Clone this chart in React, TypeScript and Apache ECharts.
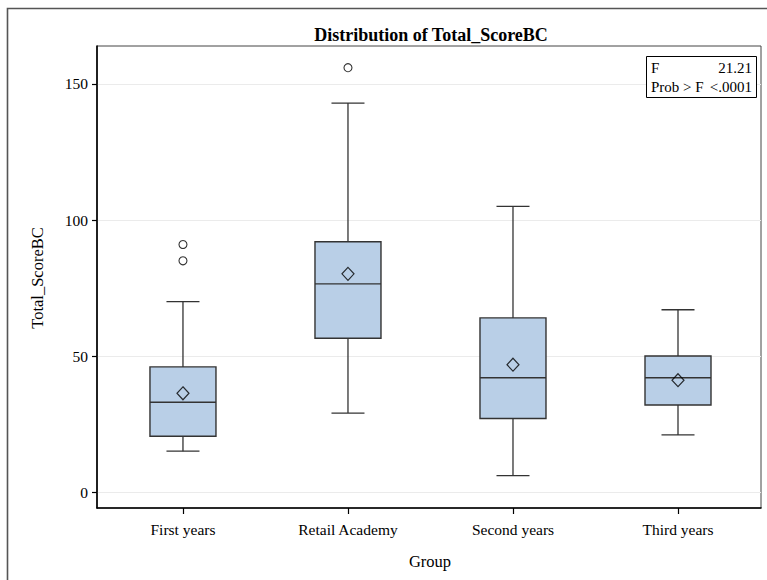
import React, { useEffect, useRef } from "react";
import * as echarts from "echarts";

const categories = ["First years", "Retail Academy", "Second years", "Third years"];
const whiskerLow = [15, 29, 6, 21];
const q1 = [20.5, 56.5, 27, 32];
const median = [33, 76.5, 42, 42];
const q3 = [46, 92, 64, 50];
const whiskerHigh = [70, 143, 105, 67];
const means = [36.3, 80.2, 46.8, 41.1];
const outliers: [number, number][] = [
  [0, 91],
  [0, 85],
  [1, 156],
];
const yTicks = [0, 50, 100, 150];
const statLabels = ["F", "Prob > F"];
const statValues = ["21.21", "<.0001"];

const SERIF = "'Liberation Serif', 'Times New Roman', serif";

export default function App() {
  const ref = useRef<HTMLDivElement>(null);
  useEffect(() => {
    if (!ref.current) return;
    const chart = echarts.init(ref.current, null, { renderer: "svg" });
    const boxData = categories.map((_, i) => [i, whiskerLow[i], q1[i], median[i], q3[i], whiskerHigh[i]]);
    const lineStyle = { stroke: "#333", lineWidth: 1.3 };
    chart.setOption({
      animation: false,
      backgroundColor: "#fff",
      grid: {
        left: 97,
        right: 767 - 761,
        top: 46,
        bottom: 580 - 508,
        show: true,
        borderColor: "#444",
        borderWidth: 1,
        backgroundColor: "transparent",
      },
      xAxis: {
        type: "value",
        min: -0.521,
        max: 3.503,
        axisLine: { show: true, onZero: false, lineStyle: { color: "#000", width: 1.6 } },
        axisTick: { show: true, length: 6, customValues: [0, 1, 2, 3], lineStyle: { color: "#000", width: 1.2 } },
        axisLabel: {
          customValues: [0, 1, 2, 3],
          formatter: (v: number) => categories[Math.round(v)] ?? "",
          margin: 13,
          color: "#000",
          fontFamily: SERIF,
          fontSize: 15.5,
        },
        splitLine: { show: false },
      },
      yAxis: {
        type: "value",
        min: -5.88,
        max: 163.97,
        splitNumber: 3,
        axisLine: { show: true, onZero: false, lineStyle: { color: "#000", width: 1.6 } },
        axisTick: { show: true, length: 5, customValues: yTicks, lineStyle: { color: "#000", width: 1.2 } },
        axisLabel: {
          customValues: yTicks,
          margin: 9,
          color: "#000",
          fontFamily: SERIF,
          fontSize: 15.5,
        },
        splitLine: { show: true, lineStyle: { color: "#ebebeb", width: 1 } },
      },
      graphic: [
        {
          type: "rect",
          shape: { x: 7.5, y: 8.5, width: 820, height: 620 },
          style: { fill: "none", stroke: "#555", lineWidth: 1.6 },
          silent: true,
        },
        {
          type: "text",
          x: 431,
          y: 35,
          style: {
            text: "Distribution of Total_ScoreBC",
            fontFamily: SERIF,
            fontWeight: "bold",
            fontSize: 18,
            fill: "#000",
            align: "center",
            verticalAlign: "middle",
          },
        },
        {
          type: "text",
          x: 37,
          y: 278,
          rotation: Math.PI / 2,
          style: {
            text: "Total_ScoreBC",
            fontFamily: SERIF,
            fontSize: 16.5,
            fill: "#000",
            align: "center",
            verticalAlign: "middle",
          },
        },
        {
          type: "text",
          x: 430,
          y: 561,
          style: {
            text: "Group",
            fontFamily: SERIF,
            fontSize: 16.5,
            fill: "#000",
            align: "center",
            verticalAlign: "middle",
          },
        },
        {
          type: "rect",
          shape: { x: 646.5, y: 56.5, width: 110, height: 41 },
          style: { fill: "#fff", stroke: "#000", lineWidth: 1 },
          z: 10,
        },
        ...statLabels.map((t, i) => ({
          type: "text",
          x: 651,
          y: 68 + i * 19,
          z: 11,
          style: { text: t, fontFamily: SERIF, fontSize: 15, fill: "#000", align: "left", verticalAlign: "middle" },
        })),
        ...statValues.map((t, i) => ({
          type: "text",
          x: 752,
          y: 68 + i * 19,
          z: 11,
          style: { text: t, fontFamily: SERIF, fontSize: 15, fill: "#000", align: "right", verticalAlign: "middle" },
        })),
      ],
      series: [
        {
          type: "custom",
          data: boxData,
          z: 2,
          renderItem: (params: any, api: any) => {
            const x = api.value(0);
            const band = api.size([1, 0])[0];
            const hw = band * 0.2;
            const cw = band * 0.1;
            const cx = api.coord([x, 0])[0];
            const yLo = api.coord([x, api.value(1)])[1];
            const yQ1 = api.coord([x, api.value(2)])[1];
            const yMed = api.coord([x, api.value(3)])[1];
            const yQ3 = api.coord([x, api.value(4)])[1];
            const yHi = api.coord([x, api.value(5)])[1];
            return {
              type: "group",
              children: [
                { type: "line", shape: { x1: cx, y1: yQ3, x2: cx, y2: yHi }, style: lineStyle },
                { type: "line", shape: { x1: cx, y1: yQ1, x2: cx, y2: yLo }, style: lineStyle },
                { type: "line", shape: { x1: cx - cw, y1: yHi, x2: cx + cw, y2: yHi }, style: lineStyle },
                { type: "line", shape: { x1: cx - cw, y1: yLo, x2: cx + cw, y2: yLo }, style: lineStyle },
                {
                  type: "rect",
                  shape: { x: cx - hw, y: yQ3, width: hw * 2, height: yQ1 - yQ3 },
                  style: { fill: "#b9cfe7", stroke: "#333", lineWidth: 1.4 },
                },
                { type: "line", shape: { x1: cx - hw, y1: yMed, x2: cx + hw, y2: yMed }, style: { stroke: "#333", lineWidth: 1.4 } },
              ],
            };
          },
        },
        {
          type: "scatter",
          z: 3,
          data: categories.map((_, i) => [i, means[i]]),
          symbol: "diamond",
          symbolSize: [12, 13],
          itemStyle: { color: "rgba(0,0,0,0)", borderColor: "#000", borderWidth: 1.2 },
          silent: true,
        },
        {
          type: "scatter",
          z: 3,
          data: outliers,
          symbol: "circle",
          symbolSize: 8,
          itemStyle: { color: "rgba(0,0,0,0)", borderColor: "#000", borderWidth: 1.1 },
          silent: true,
        },
      ],
    });
    return () => chart.dispose();
  }, []);
  return <div ref={ref} style={{ position: "absolute", left: 0, top: 0, width: 767, height: 580 }} />;
}
